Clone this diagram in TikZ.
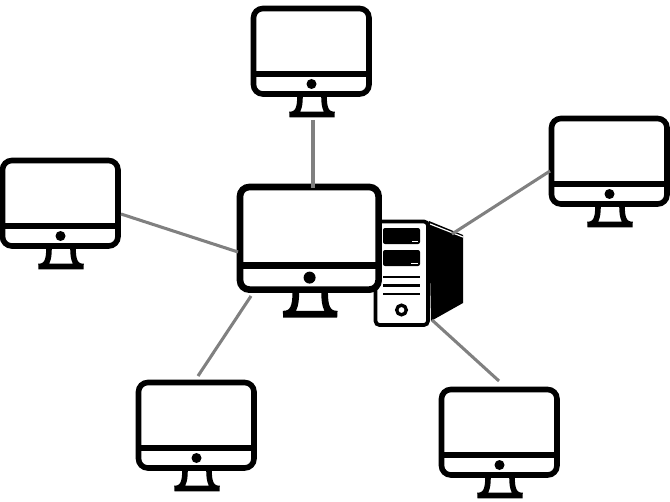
\documentclass[tikz,border=0pt]{standalone}

\tikzset{
  link/.style={draw=gray,line width=2.3pt},
  pics/monitor/.style={code={
    \draw[fill=white,line width=#1,rounded corners=7pt] (2.5,2.5) rectangle (118,88);
    \draw[line width=#1] (2.5,68) -- (118,68);
    \fill (60.5,78) circle (5);
    \draw[line width=#1,line cap=round] (49,90) .. controls (49,102) and (47,108.5) .. (38.5,108.5) -- (83.5,108.5) .. controls (75,108.5) and (73,102) .. (73,90);
  }}
}

\begin{document}
\begin{tikzpicture}[x=0.75pt,y=-0.75pt]

  \useasboundingbox (0,0) rectangle (670,502);

  % tower
  \fill (429,221) -- (463,235) -- (463,303) -- (431,321) -- cycle;
  \draw[white,line width=0.9pt] (430,224) -- (463,237);
  \draw[fill=white,line width=2.8pt,rounded corners=3pt] (375.5,221.5) rectangle (428,325);
  \fill[rounded corners=1.5pt] (383,228) rectangle (420,244);
  \fill[rounded corners=1.5pt] (383,250) rectangle (420,266);
  \draw[white,line width=0.7pt] (412,241.5) -- (418,241.5);
  \draw[white,line width=0.7pt] (411,263.5) -- (418,263.5);
  \foreach \y in {277,285.5,294}
    \draw[line width=2.2pt] (383,\y) -- (420,\y);
  \draw[line width=2.5pt] (401.5,310) circle (4.8);

  % monitors
  \pic at (237,184) [scale=1.2] {monitor=5pt};
  \pic at (251,6) {monitor=4.2pt};
  \pic at (0,158) {monitor=4.2pt};
  \pic at (549,116) {monitor=4.2pt};
  \pic at (136,380) {monitor=4.2pt};
  \pic at (439,387) {monitor=4.2pt};

  \coordinate (c1) at (313,188);
  \coordinate (c2) at (238,252);
  \coordinate (c3) at (452,234);
  \coordinate (c4) at (251,296);
  \coordinate (c5) at (432,320);

  \coordinate (m1) at (313,120);
  \coordinate (m2) at (121,214);
  \coordinate (m3) at (550,171);
  \coordinate (m4) at (198,376);
  \coordinate (m5) at (499,381);

  \draw[link] (m1) -- (c1);
  \draw[link] (m2) -- (c2);
  \draw[link] (m3) -- (c3);
  \draw[link] (m4) -- (c4);
  \draw[link] (m5) -- (c5);

\end{tikzpicture}
\end{document}
